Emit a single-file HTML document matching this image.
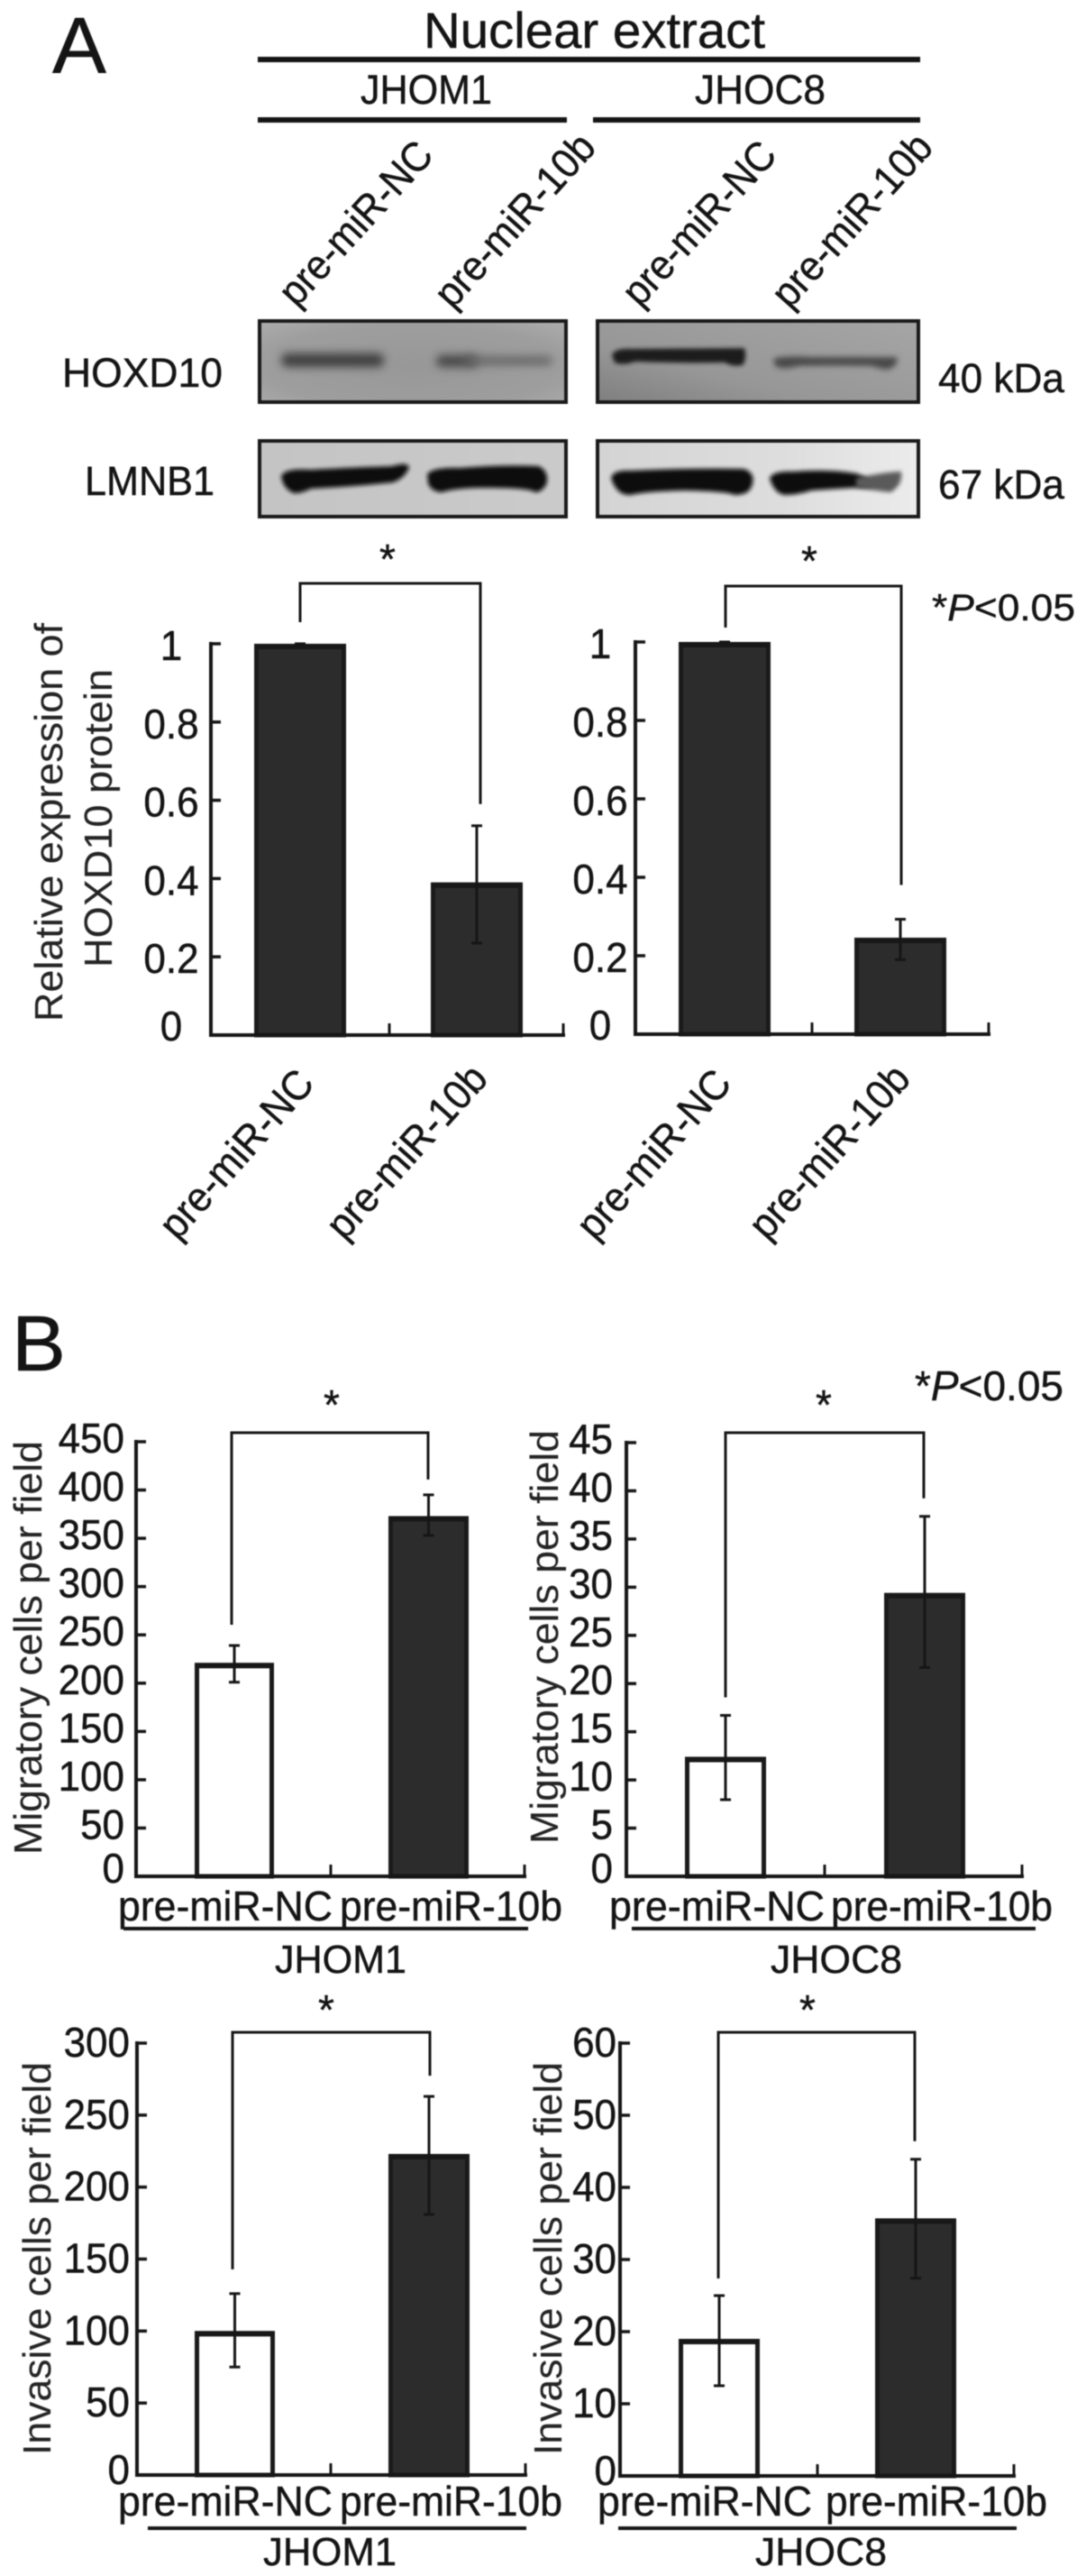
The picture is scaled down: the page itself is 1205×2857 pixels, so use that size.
<!DOCTYPE html>
<html lang="en">
<head>
<meta charset="utf-8">
<title>Nuclear extract western blots and cell assays</title>
<style>
html,body{margin:0;padding:0;background:#fff;width:1205px;height:2857px;overflow:hidden}
svg{display:block;filter:blur(.55px)}
text{font-family:"Liberation Sans",Arial,sans-serif;fill:#141414;stroke:#141414;stroke-width:.45px}
text.thin{stroke-width:.1px;fill:#242424;stroke:#242424}
.it{font-style:italic}
</style>
</head>
<body>
<svg id="figure" xmlns="http://www.w3.org/2000/svg" width="1205" height="2857" viewBox="0 0 1205 2857">
<defs>
<filter id="b5" x="-30%" y="-150%" width="160%" height="400%"><feGaussianBlur stdDeviation="5"/></filter>
<filter id="b3" x="-30%" y="-100%" width="160%" height="300%"><feGaussianBlur stdDeviation="3.2"/></filter>
<filter id="b2" x="-20%" y="-60%" width="140%" height="220%"><feGaussianBlur stdDeviation="2.4"/></filter>
<radialGradient id="gh1" cx=".5" cy=".55" r=".7"><stop offset="0" stop-color="#989898"/><stop offset=".7" stop-color="#9e9e9e"/><stop offset="1" stop-color="#acacac"/></radialGradient>
<linearGradient id="gh2" x1="0" y1="1" x2="1" y2="0"><stop offset="0" stop-color="#7e7e7e"/><stop offset=".35" stop-color="#979797"/><stop offset="1" stop-color="#a6a6a6"/></linearGradient>
<linearGradient id="gl1" x1="0" y1="0" x2="1" y2="0"><stop offset="0" stop-color="#c4c4c4"/><stop offset="1" stop-color="#cbcbcb"/></linearGradient>
<linearGradient id="gl2" x1="0" y1="0" x2="1" y2="0"><stop offset="0" stop-color="#d4d4d4"/><stop offset=".6" stop-color="#dedede"/><stop offset="1" stop-color="#ececec"/></linearGradient>
<clipPath id="c1"><rect x="286" y="354" width="344" height="94"/></clipPath>
<clipPath id="c2"><rect x="661" y="354" width="360" height="94"/></clipPath>
<clipPath id="c3"><rect x="286" y="487" width="344" height="88"/></clipPath>
<clipPath id="c4"><rect x="661" y="487" width="360" height="88"/></clipPath>
</defs>

<rect x="0" y="0" width="1205" height="2857" fill="#fff"/>

<g>
  <text x="58" y="81" font-size="88" textLength="60" lengthAdjust="spacingAndGlyphs">A</text>
  <text x="470" y="53" font-size="56" textLength="379" lengthAdjust="spacingAndGlyphs">Nuclear extract</text>
  <rect x="286" y="63" width="735" height="6" fill="#141414"/>
  <text x="400" y="115" font-size="45" textLength="146" lengthAdjust="spacingAndGlyphs">JHOM1</text>
  <text x="771" y="115" font-size="45" textLength="145" lengthAdjust="spacingAndGlyphs">JHOC8</text>
  <rect x="286" y="130" width="343" height="6" fill="#141414"/>
  <rect x="658" y="130" width="363" height="6" fill="#141414"/>
  <text transform="translate(329,342) rotate(-47.5)" font-size="46" textLength="228" lengthAdjust="spacingAndGlyphs">pre-miR-NC</text>
  <text transform="translate(502,344) rotate(-48)" font-size="46" textLength="241" lengthAdjust="spacingAndGlyphs">pre-miR-10b</text>
  <text transform="translate(710,342) rotate(-47.5)" font-size="46" textLength="228" lengthAdjust="spacingAndGlyphs">pre-miR-NC</text>
  <text transform="translate(876,344) rotate(-48)" font-size="46" textLength="241" lengthAdjust="spacingAndGlyphs">pre-miR-10b</text>
</g>

<g>
  <text x="69" y="429" font-size="45" textLength="178" lengthAdjust="spacingAndGlyphs">HOXD10</text>
  <text x="94" y="549" font-size="45" textLength="144" lengthAdjust="spacingAndGlyphs">LMNB1</text>
  <text x="1041" y="435" font-size="45" textLength="140" lengthAdjust="spacingAndGlyphs">40 kDa</text>
  <text x="1041" y="553" font-size="45" textLength="140" lengthAdjust="spacingAndGlyphs">67 kDa</text>

  <g clip-path="url(#c1)">
    <rect x="286" y="354" width="344" height="94" fill="url(#gh1)"/>
    <rect x="312" y="392" width="114" height="15" rx="7" fill="#3c3c3c" filter="url(#b5)"/>
    <rect x="484" y="394" width="46" height="13" rx="6" fill="#444" filter="url(#b5)"/>
    <rect x="515" y="395" width="98" height="10" rx="5" fill="#666" filter="url(#b5)"/>
  </g>
  <rect x="288" y="356" width="340" height="90" fill="none" stroke="#1a1a1a" stroke-width="4"/>

  <g clip-path="url(#c2)">
    <rect x="661" y="354" width="360" height="94" fill="url(#gh2)"/>
    <path d="M679,394 Q682,386 700,387 L826,386 Q829,398 824,405 Q812,407 804,402 Q760,403 705,401 Q690,406 682,402 Z" fill="#1e1e1e" filter="url(#b2)"/>
    <path d="M858,398 Q870,394 900,396 L995,396 Q998,405 985,410 Q975,409 968,406 Q920,405 885,406 Q870,411 860,406 Z" fill="#484848" filter="url(#b3)"/>
  </g>
  <rect x="663" y="356" width="356" height="90" fill="none" stroke="#1a1a1a" stroke-width="4"/>

  <g clip-path="url(#c3)">
    <rect x="286" y="487" width="344" height="88" fill="url(#gl1)"/>
    <path d="M312,528 Q316,519 345,521 Q400,518 435,517 Q452,512 454,518 Q450,530 436,535 Q390,540 345,542 Q335,547 326,547 Q314,542 312,528 Z" fill="#0e0e0e" filter="url(#b2)"/>
    <path d="M474,526 Q480,518 510,519 Q560,515 598,517 Q608,522 607,534 Q604,545 594,546 Q588,541 540,541 Q505,541 490,546 Q478,545 475,536 Z" fill="#090909" filter="url(#b2)"/>
  </g>
  <rect x="288" y="489" width="340" height="84" fill="none" stroke="#1a1a1a" stroke-width="4"/>

  <g clip-path="url(#c4)">
    <rect x="661" y="487" width="360" height="88" fill="url(#gl2)"/>
    <path d="M678,530 Q680,521 700,522 Q760,519 825,520 Q838,524 835,536 Q833,549 815,549 Q808,545 760,544 Q715,545 700,549 Q684,550 678,530 Z" fill="#0b0b0b" filter="url(#b2)"/>
    <path d="M854,530 Q858,522 880,523 Q920,520 950,525 Q965,530 968,540 Q930,542 900,544 Q885,549 870,549 Q858,546 854,530 Z" fill="#0d0d0d" filter="url(#b2)"/>
    <path d="M950,530 Q985,523 1000,523 Q1002,538 988,546 Q970,544 950,541 Z" fill="#5a5a5a" filter="url(#b2)"/>
  </g>
  <rect x="663" y="489" width="356" height="84" fill="none" stroke="#1a1a1a" stroke-width="4"/>
</g>

<text x="1034" y="688" font-size="42" textLength="159" lengthAdjust="spacingAndGlyphs">*<tspan class="it">P</tspan>&lt;0.05</text>
<text x="13" y="1520" font-size="87" textLength="60" lengthAdjust="spacingAndGlyphs">B</text>
<text x="1015" y="1553" font-size="46" textLength="165" lengthAdjust="spacingAndGlyphs">*<tspan class="it">P</tspan>&lt;0.05</text>
<text x="305" y="2188" font-size="44" textLength="146" lengthAdjust="spacingAndGlyphs">JHOM1</text>
<text x="855" y="2188" font-size="44" textLength="146" lengthAdjust="spacingAndGlyphs">JHOC8</text>
<text x="292" y="2845" font-size="44" textLength="148" lengthAdjust="spacingAndGlyphs">JHOM1</text>
<text x="838" y="2845" font-size="44" textLength="146" lengthAdjust="spacingAndGlyphs">JHOC8</text>

<g id="charts"></g>
</svg>

<script>
// Chart data
const categories = ['pre-miR-NC', 'pre-miR-10b'];

const proteinTicks = ['0', '0.2', '0.4', '0.6', '0.8', '1'];
const migratoryJhom1Ticks = ['0', '50', '100', '150', '200', '250', '300', '350', '400', '450'];
const migratoryJhoc8Ticks = ['0', '5', '10', '15', '20', '25', '30', '35', '40', '45'];
const invasiveJhom1Ticks = ['0', '50', '100', '150', '200', '250', '300'];
const invasiveJhoc8Ticks = ['0', '10', '20', '30', '40', '50', '60'];

const proteinJhom1Values = [1, 0.39];
const proteinJhom1High = [1, 0.535];
const proteinJhom1Low = [1, 0.235];

const proteinJhoc8Values = [1, 0.246];
const proteinJhoc8High = [1, 0.293];
const proteinJhoc8Low = [1, 0.19];

const migratoryJhom1Values = [221, 373];
const migratoryJhom1High = [239, 395];
const migratoryJhom1Low = [201, 353];

const migratoryJhoc8Values = [12.4, 29.4];
const migratoryJhoc8High = [16.7, 37.35];
const migratoryJhoc8Low = [7.95, 21.66];

const invasiveJhom1Values = [100, 223];
const invasiveJhom1High = [126, 263];
const invasiveJhom1Low = [75, 181];

const invasiveJhoc8Values = [19, 35.7];
const invasiveJhoc8High = [25, 43.9];
const invasiveJhoc8Low = [12.5, 27.4];

const SVGNS = 'http://www.w3.org/2000/svg';
const root = document.getElementById('charts');

function make(parent, tag, attrs, txt) {
  const n = document.createElementNS(SVGNS, tag);
  for (const k in attrs) n.setAttribute(k, attrs[k]);
  if (txt !== undefined) n.textContent = txt;
  parent.appendChild(n);
  return n;
}

function labelWidth(s) {
  let w = 0;
  for (const ch of s) w += (ch === '.' ? 0.278 : 0.556);
  return w * 44;
}

function drawChart(c) {
  const g = make(root, 'g', {});
  
  

  const maxV = parseFloat(c.ticks[c.ticks.length - 1]);
  const yScale = v => c.base - (v / maxV) * (c.base - c.top);
  const xCenter = i => (c.bars[i][0] + c.bars[i][1]) / 2;
  const ink = '#161616';

  // bars
  c.values.forEach((v, i) => {
    const hollow = c.hollowFirst && i === 0;
    const y = yScale(v);
    const bar = make(g, 'rect', {
      x: c.bars[i][0] + 2.5, y: y + 2.5,
      width: c.bars[i][1] - c.bars[i][0] - 5, height: c.base - y - 2.5,
      fill: hollow ? '#fff' : '#2c2c2c', stroke: '#1a1a1a', 'stroke-width': 5
    });
    
    
    const cap = make(g, 'rect', {
      x: c.bars[i][0], y: y, width: c.bars[i][1] - c.bars[i][0], height: 6, fill: '#181818'
    });
    
    
  });

  // error bars
  c.values.forEach((v, i) => {
    const cx = xCenter(i);
    const hi = yScale(c.high[i]);
    const lo = yScale(c.low[i]);
    const stem = make(g, 'line', { x1: cx, x2: cx, y1: hi, y2: lo, stroke: ink, 'stroke-width': 3 });
    
    
    const capTop = make(g, 'line', { x1: cx - 6, x2: cx + 6, y1: hi, y2: hi, stroke: ink, 'stroke-width': 3 });
    
    
    const capLow = make(g, 'line', { x1: cx - 6, x2: cx + 6, y1: lo, y2: lo, stroke: ink, 'stroke-width': 3 });
    
    
  });

  // axes
  const yAxis = make(g, 'line', { x1: c.axisX, x2: c.axisX, y1: c.top - 2, y2: c.base + 2, stroke: ink, 'stroke-width': 4 });
  
  
  const xAxis = make(g, 'line', { x1: c.axisX - 2, x2: c.right + 2, y1: c.base, y2: c.base, stroke: ink, 'stroke-width': 4 });
  
  

  [c.midX, c.right].forEach(tx => {
    const t = make(g, 'line', { x1: tx, x2: tx, y1: c.base, y2: c.base - 13, stroke: ink, 'stroke-width': 3 });
    
    
  });

  c.ticks.forEach(label => {
    const v = parseFloat(label);
    const y = yScale(v);
    const t = make(g, 'line', { x1: c.axisX, x2: c.axisX + 11, y1: y, y2: y, stroke: ink, 'stroke-width': 3.5 });
    
    
    const lab = make(g, 'text', {
      x: c.labelX, y: y + (v === 0 ? c.zeroDy : c.labelDy),
      'font-size': 46, 'text-anchor': c.labelAnchor,
      textLength: labelWidth(label), lengthAdjust: 'spacingAndGlyphs'
    }, label);
    
    
  });

  // y titles
  c.titles.forEach(tt => {
    const ty = make(g, 'text', {
      'class': 'thin',
      transform: 'translate(' + tt.x + ',' + tt.y + ') rotate(-90)',
      'font-size': 44, textLength: tt.len, lengthAdjust: 'spacingAndGlyphs'
    }, tt.text);
    
    
  });

  // category labels
  c.catLabels.forEach((cl, i) => {
    const attrs = { 'font-size': 46, textLength: cl.len, lengthAdjust: 'spacingAndGlyphs' };
    if (cl.rot) {
      attrs.transform = 'translate(' + cl.x + ',' + cl.y + ') rotate(' + cl.rot + ')';
    } else {
      attrs.x = cl.x;
      attrs.y = cl.y;
    }
    const t = make(g, 'text', attrs, categories[i]);
    
    
  });

  // group underline
  if (c.rule) {
    const u = make(g, 'line', { x1: c.rule[0], x2: c.rule[1], y1: c.rule[2], y2: c.rule[2], stroke: ink, 'stroke-width': 4 });
    
    
  }

  // significance bracket: legs stop a gap above each error bar
  const legL = yScale(c.high[0]) - c.bracket.gaps[0];
  const legR = yScale(c.high[1]) - c.bracket.gaps[1];
  const br = make(g, 'polyline', {
    points: c.bracket.x[0] + ',' + legL + ' ' + c.bracket.x[0] + ',' + c.bracket.y + ' ' +
            c.bracket.x[1] + ',' + c.bracket.y + ' ' + c.bracket.x[1] + ',' + legR,
    fill: 'none', stroke: ink, 'stroke-width': 3
  });
  
  
  const star = make(g, 'text', {
    x: c.star[0], y: c.star[1], 'font-size': c.starSize || 46, 'text-anchor': 'middle'
  }, '*');
  
  
}

drawChart({
  name: 'protein-chart-jhom1', ticks: proteinTicks, values: proteinJhom1Values, high: proteinJhom1High, low: proteinJhom1Low,
  axisX: 234, top: 714, base: 1148, right: 625, midX: 432, bars: [[282, 384], [478, 580]], hollowFirst: false,
  labelX: 190, labelAnchor: 'middle', labelDy: 18, zeroDy: 6,
  titles: [
    { x: 69, y: 1133, len: 442, text: 'Relative expression of' },
    { x: 124, y: 1073, len: 331, text: 'HOXD10 protein' }
  ],
  catLabels: [
    { x: 197, y: 1377, rot: -48.5, len: 232 },
    { x: 382, y: 1377, rot: -48, len: 241 }
  ],
  bracket: { x: [333, 533], y: 647, gaps: [24, 24] }, star: [430, 636]
});

drawChart({
  name: 'protein-chart-jhoc8', ticks: proteinTicks, values: proteinJhoc8Values, high: proteinJhoc8High, low: proteinJhoc8Low,
  axisX: 705, top: 712, base: 1147, right: 1097, midX: 901, bars: [[753, 855], [948, 1050]], hollowFirst: false,
  labelX: 666, labelAnchor: 'middle', labelDy: 18, zeroDy: 6,
  titles: [],
  catLabels: [
    { x: 660, y: 1377, rot: -48.5, len: 232 },
    { x: 851, y: 1377, rot: -48, len: 241 }
  ],
  bracket: { x: [805, 1000], y: 650, gaps: [16, 38] }, star: [898, 638]
});

drawChart({
  name: 'migratory-chart-jhom1', ticks: migratoryJhom1Ticks, values: migratoryJhom1Values, high: migratoryJhom1High, low: migratoryJhom1Low,
  axisX: 151, top: 1599, base: 2081, right: 582, midX: 367, bars: [[216, 304], [431, 520]], hollowFirst: true,
  labelX: 138, labelAnchor: 'end', labelDy: 12, zeroDy: 7,
  titles: [{ x: 46, y: 2057, len: 459, text: 'Migratory cells per field' }],
  catLabels: [
    { x: 131, y: 2130, len: 238 },
    { x: 377, y: 2130, len: 247 }
  ],
  rule: [137, 586, 2139],
  bracket: { x: [257, 475], y: 1589, gaps: [23, 17] }, star: [368, 1574]
});

drawChart({
  name: 'migratory-chart-jhoc8', ticks: migratoryJhoc8Ticks, values: migratoryJhoc8Values, high: migratoryJhoc8High, low: migratoryJhoc8Low,
  axisX: 695, top: 1600, base: 2081, right: 1134, midX: 915, bars: [[760, 850], [981, 1071]], hollowFirst: true,
  labelX: 680, labelAnchor: 'end', labelDy: 12, zeroDy: 7,
  titles: [{ x: 619, y: 2045, len: 459, text: 'Migratory cells per field' }],
  catLabels: [
    { x: 676, y: 2130, len: 239 },
    { x: 922, y: 2130, len: 246 }
  ],
  rule: [701, 1149, 2139],
  bracket: { x: [805, 1025], y: 1589, gaps: [20, 20] }, star: [914, 1574]
});

drawChart({
  name: 'invasive-chart-jhom1', ticks: invasiveJhom1Ticks, values: invasiveJhom1Values, high: invasiveJhom1High, low: invasiveJhom1Low,
  axisX: 152, top: 2266, base: 2745, right: 583, midX: 367, bars: [[216, 305], [431, 521]], hollowFirst: true,
  labelX: 144, labelAnchor: 'end', labelDy: 15, zeroDy: 10,
  titles: [{ x: 56, y: 2723, len: 436, text: 'Invasive cells per field' }],
  catLabels: [
    { x: 131, y: 2790, len: 238 },
    { x: 377, y: 2790, len: 247 }
  ],
  rule: [164, 584, 2804],
  bracket: { x: [258, 477], y: 2254, gaps: [27, 23] }, star: [362, 2245]
});

drawChart({
  name: 'invasive-chart-jhoc8', ticks: invasiveJhoc8Ticks, values: invasiveJhoc8Values, high: invasiveJhoc8High, low: invasiveJhoc8Low,
  axisX: 688, top: 2266, base: 2746, right: 1125, midX: 907, bars: [[753, 843], [971, 1061]], hollowFirst: true,
  labelX: 684, labelAnchor: 'end', labelDy: 15, zeroDy: 10,
  titles: [{ x: 623, y: 2723, len: 436, text: 'Invasive cells per field' }],
  catLabels: [
    { x: 663, y: 2790, len: 238 },
    { x: 916, y: 2790, len: 246 }
  ],
  rule: [686, 1128, 2804],
  bracket: { x: [797, 1015], y: 2254, gaps: [19, 20] }, star: [896, 2245]
});
</script>
</body>
</html>
